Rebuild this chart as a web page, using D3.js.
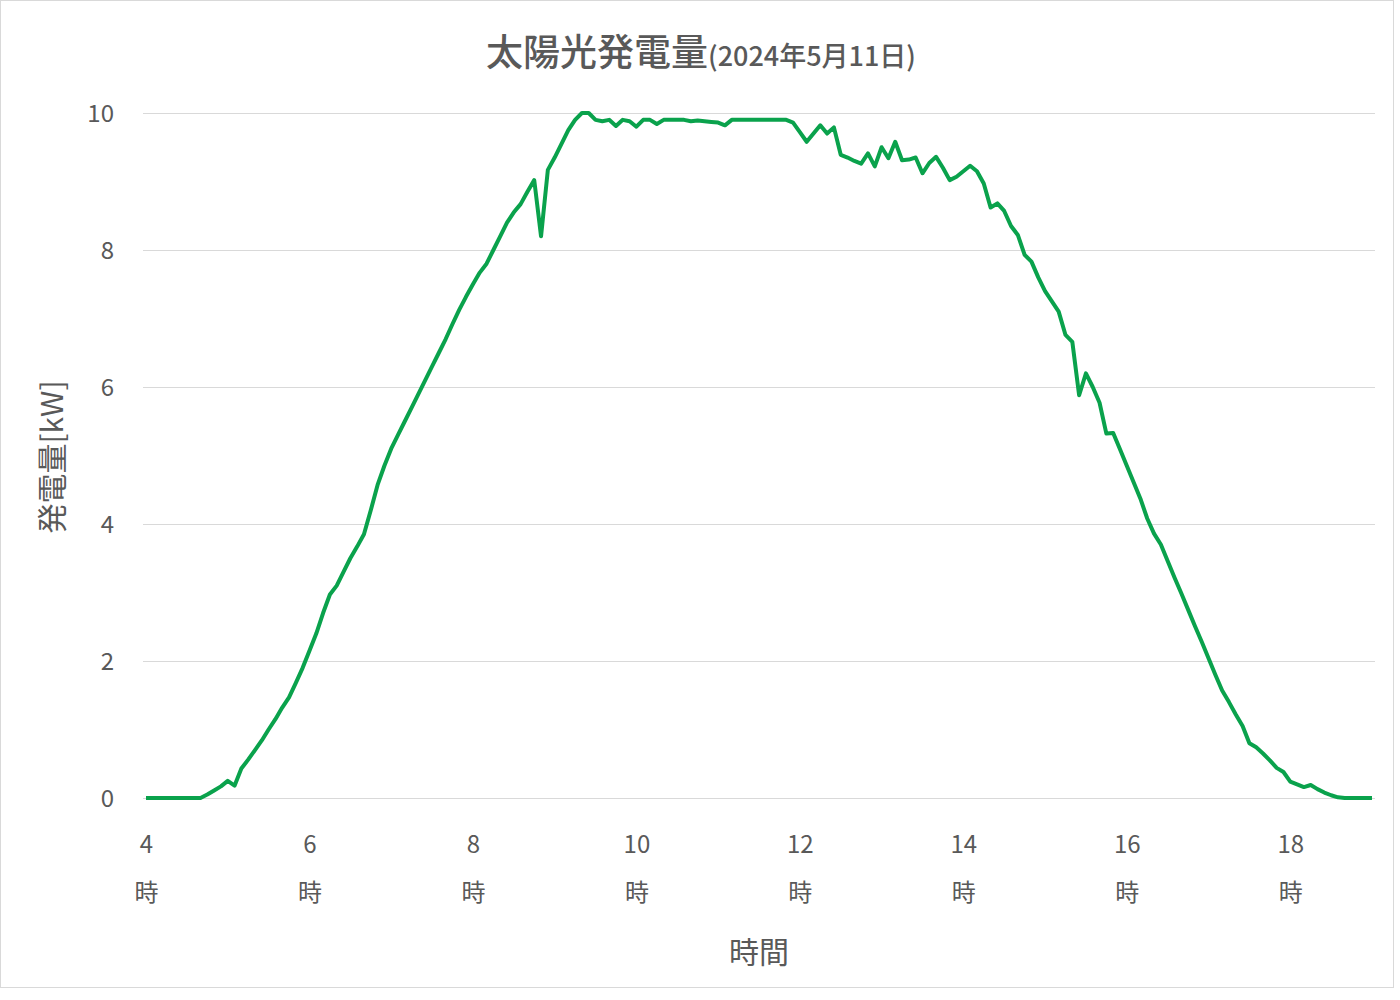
<!DOCTYPE html>
<html>
<head>
<meta charset="utf-8">
<script src="https://cdn.jsdelivr.net/npm/d3@7"></script>
<style>
  body { margin: 0; background: #fff; }
  text { font-family: "Noto Sans CJK JP", "Noto Sans", sans-serif; fill: #595959; }
</style>
</head>
<body>
<div id="chart"></div>
<script>
// 5分ごとの発電量 [kW]、4時から19時まで
var startHour = 4;
var stepMinutes = 5;
var power = [
    0, 0, 0, 0, 0, 0, 0, 0, 0, 0.05, 0.11, 0.17,                       // 4時
    0.25, 0.18, 0.43, 0.56, 0.70, 0.84, 1.0, 1.15, 1.32, 1.47, 1.68, 1.9, // 5時
    2.15, 2.4, 2.7, 2.97, 3.1, 3.3, 3.5, 3.67, 3.85, 4.2, 4.57, 4.85,    // 6時
    5.1, 5.3, 5.5, 5.7, 5.9, 6.1, 6.3, 6.5, 6.7, 6.92, 7.13, 7.32,       // 7時
    7.5, 7.67, 7.8, 8.0, 8.2, 8.4, 8.55, 8.67, 8.85, 9.02, 8.2, 9.17,    // 8時
    9.35, 9.55, 9.75, 9.9, 10.0, 10.0, 9.9, 9.88, 9.9, 9.81, 9.9, 9.88,  // 9時
    9.8, 9.9, 9.9, 9.84, 9.9, 9.9, 9.9, 9.9, 9.88, 9.89, 9.88, 9.87,     // 10時
    9.86, 9.82, 9.9, 9.9, 9.9, 9.9, 9.9, 9.9, 9.9, 9.9, 9.9, 9.86,       // 11時
    9.72, 9.58, 9.7, 9.82, 9.70, 9.79, 9.39, 9.35, 9.3, 9.26, 9.41, 9.22, // 12時
    9.5, 9.34, 9.58, 9.31, 9.32, 9.35, 9.12, 9.27, 9.36, 9.2, 9.02, 9.07, // 13時
    9.15, 9.23, 9.15, 8.97, 8.62, 8.68, 8.57, 8.35, 8.22, 7.93, 7.83, 7.6, // 14時
    7.4, 7.25, 7.1, 6.76, 6.66, 5.88, 6.2, 6.0, 5.77, 5.32, 5.33, 5.09,  // 15時
    4.85, 4.61, 4.37, 4.08, 3.86, 3.7, 3.46, 3.22, 2.99, 2.75, 2.51, 2.28, // 16時
    2.04, 1.8, 1.57, 1.4, 1.22, 1.05, 0.8, 0.74, 0.65, 0.55, 0.44, 0.38, // 17時
    0.24, 0.2, 0.16, 0.19, 0.13, 0.08, 0.04, 0.01, 0, 0, 0, 0,           // 18時
    0                                                                     // 19時
];
var xTicks = [4, 6, 8, 10, 12, 14, 16, 18];
var yTicks = [0, 2, 4, 6, 8, 10];
var titleMain = "太陽光発電量";
var titleSub = "(2024年5月11日)";
var xTitle = "時間";
var yTitle = "発電量[kW]";

var width = 1400, height = 1000;

var svg = d3.select("#chart")
    .append("svg")
    .attr("width", width)
    .attr("height", height);

// 外枠
svg.append("rect")
    .attr("x", 0.5).attr("y", 0.5)
    .attr("width", 1393).attr("height", 987)
    .attr("fill", "#fff")
    .attr("stroke", "#d9d9d9");

var x = d3.scaleLinear().domain([4, 19]).range([146, 1372]);
var y = d3.scaleLinear().domain([0, 10]).range([798, 113]);

// grid lines + y labels
var yAxis = svg.append("g")
    .attr("transform", "translate(143,0)")
    .call(d3.axisLeft(y).tickValues(yTicks).tickSize(-1232).tickPadding(29));
yAxis.select(".domain").remove();
yAxis.selectAll("line").attr("stroke", "#d9d9d9").attr("stroke-width", 1.2);
yAxis.selectAll("text")
    .style("font-size", "24px")
    .attr("fill", "#595959")
    .attr("dy", "0.36em");

// x labels (数字と「時」の2段)
var xAxis = svg.append("g")
    .attr("transform", "translate(0,798)")
    .call(d3.axisBottom(x).tickValues(xTicks).tickSize(0).tickFormat(""));
xAxis.select(".domain").remove();
xAxis.selectAll(".tick").each(function (d) {
    var t = d3.select(this).append("text")
        .attr("text-anchor", "middle")
        .style("font-size", "24px")
        .attr("fill", "#595959");
    t.append("tspan").attr("x", 0).attr("y", 55).text(d);
    t.append("tspan").attr("x", 0).attr("y", 103).text("時");
});

// line
var line = d3.line()
    .x(function (d, i) { return x(startHour + i * stepMinutes / 60); })
    .y(function (d) { return y(d); });

svg.append("path")
    .datum(power)
    .attr("d", line)
    .attr("fill", "none")
    .attr("stroke", "#0aa24c")
    .attr("stroke-width", 4)
    .attr("stroke-linejoin", "round");

// title
var title = svg.append("text")
    .attr("x", 701)
    .attr("y", 66)
    .attr("text-anchor", "middle")
    .style("font-weight", 500);
title.append("tspan").style("font-size", "37px").text(titleMain);
title.append("tspan").style("font-size", "27px").text(titleSub);

// axis titles
svg.append("text")
    .attr("x", 759)
    .attr("y", 963)
    .attr("text-anchor", "middle")
    .style("font-size", "30px")
    .text(xTitle);

svg.append("text")
    .attr("transform", "translate(63,457) rotate(-90)")
    .attr("text-anchor", "middle")
    .style("font-size", "30px")
    .text(yTitle);
</script>
</body>
</html>
